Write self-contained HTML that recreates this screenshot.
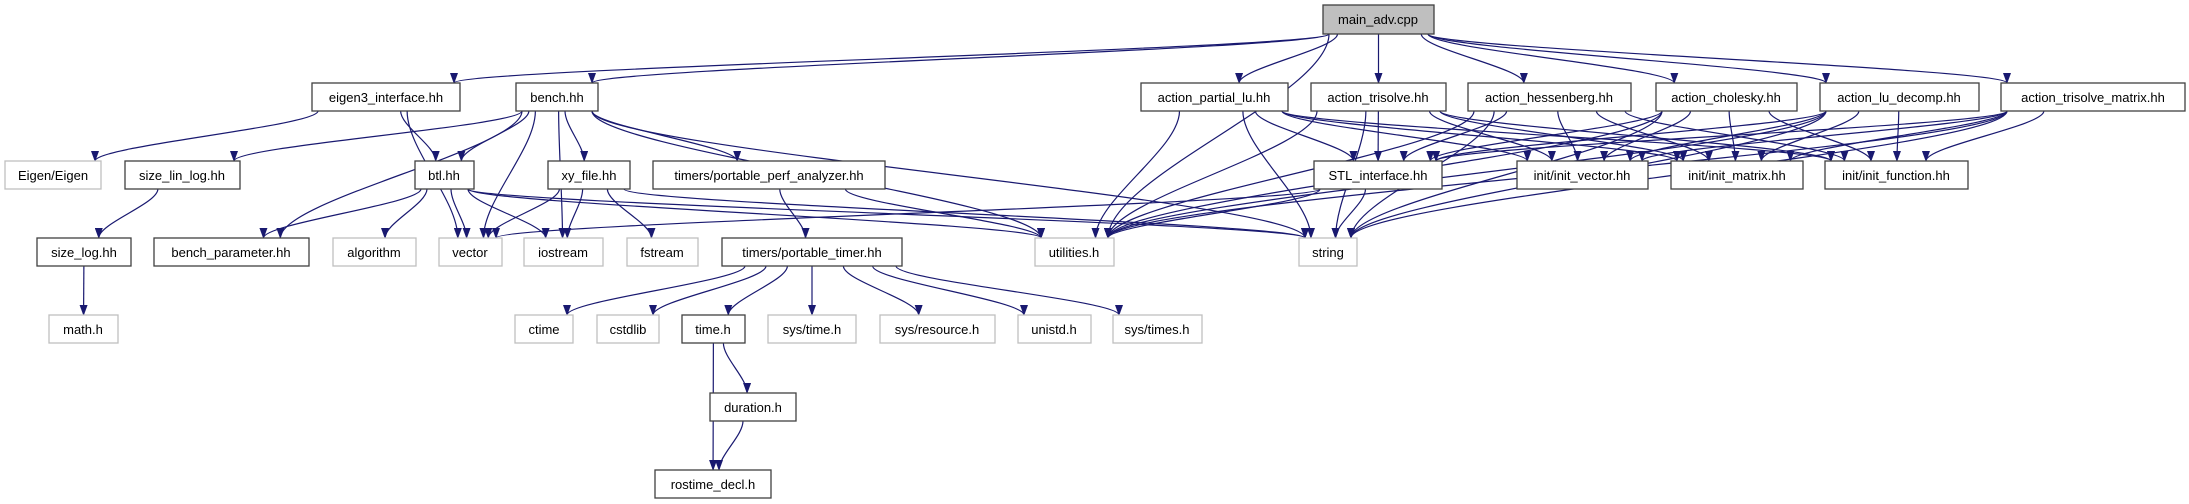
<!DOCTYPE html>
<html><head><meta charset="utf-8"><style>
html,body{margin:0;padding:0;background:#fff;}
svg{display:block;}
text{font-family:"Liberation Sans",sans-serif;font-size:13px;fill:#000;text-anchor:middle;}
</style></head><body>
<svg id="g" width="2189" height="504" viewBox="0 0 2189 504" xmlns="http://www.w3.org/2000/svg">
<defs><marker id="a" markerWidth="11" markerHeight="8" refX="10" refY="4" orient="auto" markerUnits="userSpaceOnUse"><path d="M0,0 L11,4 L0,8 z" fill="#191970"/></marker></defs>
<g id="edges" fill="none" stroke="#191970" stroke-width="1.2"></g>
<g id="nodes" stroke-width="1.3">
<rect x="1323" y="5" width="111" height="29" fill="#bfbfbf" stroke="#404040"/><text x="1378" y="24">main_adv.cpp</text>
<rect x="312" y="83" width="148" height="28" fill="#fff" stroke="#404040"/><text x="386" y="102">eigen3_interface.hh</text>
<rect x="516" y="83" width="82" height="28" fill="#fff" stroke="#404040"/><text x="557" y="102">bench.hh</text>
<rect x="1141" y="83" width="147" height="28" fill="#fff" stroke="#404040"/><text x="1214" y="102">action_partial_lu.hh</text>
<rect x="1311" y="83" width="135" height="28" fill="#fff" stroke="#404040"/><text x="1378" y="102">action_trisolve.hh</text>
<rect x="1468" y="83" width="163" height="28" fill="#fff" stroke="#404040"/><text x="1549" y="102">action_hessenberg.hh</text>
<rect x="1656" y="83" width="141" height="28" fill="#fff" stroke="#404040"/><text x="1726" y="102">action_cholesky.hh</text>
<rect x="1820" y="83" width="159" height="28" fill="#fff" stroke="#404040"/><text x="1899" y="102">action_lu_decomp.hh</text>
<rect x="2001" y="83" width="184" height="28" fill="#fff" stroke="#404040"/><text x="2093" y="102">action_trisolve_matrix.hh</text>
<rect x="5" y="161" width="96" height="28" fill="#fff" stroke="#bfbfbf"/><text x="53" y="180">Eigen/Eigen</text>
<rect x="125" y="161" width="115" height="28" fill="#fff" stroke="#404040"/><text x="182" y="180">size_lin_log.hh</text>
<rect x="415" y="161" width="59" height="28" fill="#fff" stroke="#404040"/><text x="444" y="180">btl.hh</text>
<rect x="548" y="161" width="82" height="28" fill="#fff" stroke="#404040"/><text x="589" y="180">xy_file.hh</text>
<rect x="653" y="161" width="232" height="28" fill="#fff" stroke="#404040"/><text x="769" y="180">timers/portable_perf_analyzer.hh</text>
<rect x="1314" y="161" width="128" height="28" fill="#fff" stroke="#404040"/><text x="1378" y="180">STL_interface.hh</text>
<rect x="1517" y="161" width="131" height="28" fill="#fff" stroke="#404040"/><text x="1582" y="180">init/init_vector.hh</text>
<rect x="1671" y="161" width="132" height="28" fill="#fff" stroke="#404040"/><text x="1737" y="180">init/init_matrix.hh</text>
<rect x="1825" y="161" width="143" height="28" fill="#fff" stroke="#404040"/><text x="1896" y="180">init/init_function.hh</text>
<rect x="37" y="238" width="94" height="28" fill="#fff" stroke="#404040"/><text x="84" y="257">size_log.hh</text>
<rect x="154" y="238" width="155" height="28" fill="#fff" stroke="#404040"/><text x="231" y="257">bench_parameter.hh</text>
<rect x="333" y="238" width="83" height="28" fill="#fff" stroke="#bfbfbf"/><text x="374" y="257" fill="#000">algorithm</text>
<rect x="439" y="238" width="63" height="28" fill="#fff" stroke="#bfbfbf"/><text x="470" y="257">vector</text>
<rect x="524" y="238" width="79" height="28" fill="#fff" stroke="#bfbfbf"/><text x="563" y="257">iostream</text>
<rect x="627" y="238" width="71" height="28" fill="#fff" stroke="#bfbfbf"/><text x="662" y="257">fstream</text>
<rect x="722" y="238" width="180" height="28" fill="#fff" stroke="#404040"/><text x="812" y="257">timers/portable_timer.hh</text>
<rect x="1035" y="238" width="79" height="28" fill="#fff" stroke="#bfbfbf"/><text x="1074" y="257">utilities.h</text>
<rect x="1299" y="238" width="58" height="28" fill="#fff" stroke="#bfbfbf"/><text x="1328" y="257">string</text>
<rect x="49" y="315" width="69" height="28" fill="#fff" stroke="#bfbfbf"/><text x="83" y="334">math.h</text>
<rect x="515" y="315" width="58" height="28" fill="#fff" stroke="#bfbfbf"/><text x="544" y="334">ctime</text>
<rect x="597" y="315" width="62" height="28" fill="#fff" stroke="#bfbfbf"/><text x="628" y="334">cstdlib</text>
<rect x="682" y="315" width="63" height="28" fill="#fff" stroke="#404040"/><text x="713" y="334">time.h</text>
<rect x="768" y="315" width="88" height="28" fill="#fff" stroke="#bfbfbf"/><text x="812" y="334">sys/time.h</text>
<rect x="880" y="315" width="115" height="28" fill="#fff" stroke="#bfbfbf"/><text x="937" y="334">sys/resource.h</text>
<rect x="1018" y="315" width="73" height="28" fill="#fff" stroke="#bfbfbf"/><text x="1054" y="334">unistd.h</text>
<rect x="1113" y="315" width="89" height="28" fill="#fff" stroke="#bfbfbf"/><text x="1157" y="334">sys/times.h</text>
<rect x="710" y="393" width="86" height="28" fill="#fff" stroke="#404040"/><text x="753" y="412">duration.h</text>
<rect x="655" y="470" width="116" height="28" fill="#fff" stroke="#404040"/><text x="713" y="489">rostime_decl.h</text>
</g>
</svg>
<script>
var N={
main:[1323,5,111,29],eig:[312,83,148,28],bench:[516,83,82,28],plu:[1141,83,147,28],tri:[1311,83,135,28],hes:[1468,83,163,28],cho:[1656,83,141,28],lud:[1820,83,159,28],trm:[2001,83,184,28],
EE:[5,161,96,28],sll:[125,161,115,28],btl:[415,161,59,28],xy:[548,161,82,28],ppa:[653,161,232,28],stl:[1314,161,128,28],iv:[1517,161,131,28],im:[1671,161,132,28],ifn:[1825,161,143,28],
sl:[37,238,94,28],bp:[154,238,155,28],alg:[333,238,83,28],vec:[439,238,63,28],ios:[524,238,79,28],fs:[627,238,71,28],pt:[722,238,180,28],ut:[1035,238,79,28],str:[1299,238,58,28],
mh:[49,315,69,28],ct:[515,315,58,28],cs:[597,315,62,28],th:[682,315,63,28],st:[768,315,88,28],sr:[880,315,115,28],un:[1018,315,73,28],stm:[1113,315,89,28],
du:[710,393,86,28],rd:[655,470,116,28]};
var E=[["main","eig"],["main","bench"],["main","plu"],["main","tri"],["main","hes"],["main","cho"],["main","lud"],["main","trm"],["main","ut"],
["eig","EE"],["eig","btl"],["eig","vec"],
["bench","sll"],["bench","btl"],["bench","xy"],["bench","ppa"],["bench","bp"],["bench","vec"],["bench","ios"],["bench","ut"],["bench","str"],
["sll","sl"],["sl","mh"],
["btl","bp"],["btl","alg"],["btl","vec"],["btl","ios"],["btl","ut"],["btl","str"],
["xy","vec"],["xy","ios"],["xy","fs"],["xy","str"],
["ppa","pt"],["ppa","ut"],
["pt","ct"],["pt","cs"],["pt","th"],["pt","st"],["pt","sr"],["pt","un"],["pt","stm"],
["th","du"],["th","rd"],["du","rd"],
["stl","vec"],["stl","ut"],["stl","str"]];
["plu","tri","hes","cho","lud","trm"].forEach(function(s){["ut","str","stl","iv","im","ifn"].forEach(function(t){E.push([s,t]);});});
var g=document.getElementById("edges"),ns="http://www.w3.org/2000/svg";
function cl(v,a,b){return Math.max(a,Math.min(b,v));}
E.forEach(function(e){
var s=N[e[0]],t=N[e[1]];
var scx=s[0]+s[2]/2,tcx=t[0]+t[2]/2,d;
if(t[1]<s[1]+s[3]+10){ // row-1 targets from main: go to side
  var sy=s[1]+s[3]/2,ex,ey=t[1]+4;
  var sx=tcx<scx?s[0]:s[0]+s[2];
  if(Math.abs(tcx-scx)<250){sx=cl(scx+(tcx-scx)*0.3,s[0]+8,s[0]+s[2]-8);sy=s[1]+s[3];ex=cl(tcx+(scx-tcx)*0.2,t[0]+8,t[0]+t[2]-8);ey=t[1];}
  else{ex=tcx<scx?(t[0]+t[2]):t[0]+20;if(tcx<scx){ey=t[1]+4;}else{ey=t[1];ex=t[0]+15;}}
  d="M"+sx+","+sy+" L"+ex+","+ey;
}else{
  var sx=cl(scx+(tcx-scx)*0.25,s[0]+6,s[0]+s[2]-6),sy=s[1]+s[3];
  var ex=cl(tcx+(scx-tcx)*0.15,t[0]+6,t[0]+t[2]-6),ey=t[1];
  var my=(sy+ey)/2;
  d="M"+sx+","+sy+" C"+sx+","+(sy+(ey-sy)*0.3)+" "+ex+","+(ey-(ey-sy)*0.3)+" "+ex+","+ey;
}
var p=document.createElementNS(ns,"path");p.setAttribute("d",d);p.setAttribute("marker-end","url(#a)");g.appendChild(p);
});
</script>
</body></html>
